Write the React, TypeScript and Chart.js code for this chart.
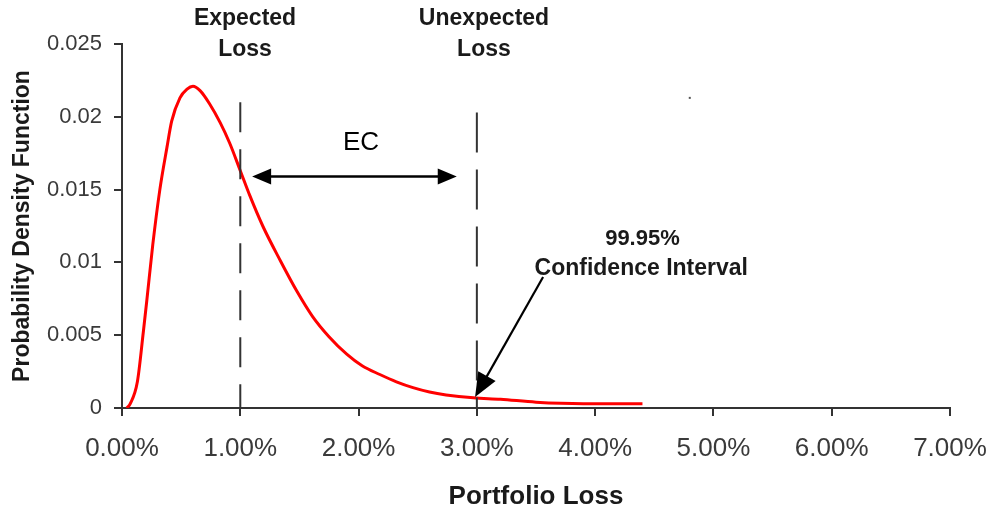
import React, { useEffect, useRef } from 'react';
import { Chart, registerables } from 'chart.js';

Chart.register(...registerables);

// Portfolio loss (%) and probability density
const lossPct = [0.04, 0.07, 0.13, 0.18, 0.21, 0.26, 0.32, 0.38, 0.42, 0.49, 0.55, 0.6, 0.66, 0.74, 0.83, 0.91, 1.0, 1.08, 1.19, 1.34, 1.48, 1.61, 1.75, 1.9, 2.03, 2.18, 2.32, 2.46, 2.6, 2.74, 2.97, 3.2, 3.5, 3.9, 4.4];
const density = [0, 0.0003, 0.0018, 0.0052, 0.0074, 0.0112, 0.015, 0.0179, 0.0197, 0.0213, 0.0219, 0.0221, 0.0218, 0.0209, 0.0196, 0.0182, 0.0163, 0.0146, 0.0125, 0.0101, 0.0080, 0.0063, 0.0049, 0.0037, 0.0029, 0.0023, 0.0018, 0.0014, 0.0011, 0.0009, 0.0007, 0.0006, 0.0004, 0.0003, 0.0003];

const xTickValues = [0, 1, 2, 3, 4, 5, 6, 7];
const yTickValues = [0, 0.005, 0.01, 0.015, 0.02, 0.025];

// Annotations (in data units)
const expectedLoss = 1.0;
const unexpectedLoss = 3.0;
const expectedLineTop = 0.021;
const unexpectedLineTop = 0.0203;
const ecArrow = { from: 1.1, to: 2.83, y: 0.0159 };
const ciArrow = { fromX: 3.56, fromY: 0.009, toX: 2.985, toY: 0.00075 };
const labels = [
  { text: 'Expected', x: 1.04, y: 0.0263, bold: true, size: 23 },
  { text: 'Loss', x: 1.04, y: 0.0242, bold: true, size: 23 },
  { text: 'Unexpected', x: 3.06, y: 0.0263, bold: true, size: 23 },
  { text: 'Loss', x: 3.06, y: 0.0242, bold: true, size: 23 },
  { text: 'EC', x: 2.02, y: 0.0177, bold: false, size: 26 },
  { text: '99.95%', x: 4.4, y: 0.0112, bold: true, size: 22 },
  { text: 'Confidence Interval', x: 4.39, y: 0.00913, bold: true, size: 23 },
];
const strayDot = { x: 4.8, y: 0.0213 };

const FONT = '"Liberation Sans", Arial, sans-serif';

function arrowHead(ctx: CanvasRenderingContext2D, fx: number, fy: number, tx: number, ty: number, len: number, half: number) {
  const ang = Math.atan2(ty - fy, tx - fx);
  const bx = tx - len * Math.cos(ang);
  const by = ty - len * Math.sin(ang);
  ctx.beginPath();
  ctx.moveTo(tx, ty);
  ctx.lineTo(bx + half * Math.sin(ang), by - half * Math.cos(ang));
  ctx.lineTo(bx - half * Math.sin(ang), by + half * Math.cos(ang));
  ctx.closePath();
  ctx.fill();
}

const annotationPlugin = {
  id: 'lossAnnotations',
  afterDatasetsDraw(chart: any) {
    const { ctx, scales } = chart;
    const xs = scales.x;
    const ys = scales.y;
    const px = (v: number) => xs.getPixelForValue(v);
    const py = (v: number) => ys.getPixelForValue(v);
    ctx.save();

    // dashed vertical lines
    ctx.strokeStyle = '#333';
    ctx.lineWidth = 2;
    ctx.setLineDash([30, 17]);
    ctx.beginPath();
    ctx.moveTo(px(expectedLoss), py(expectedLineTop));
    ctx.lineTo(px(expectedLoss), py(0));
    ctx.stroke();
    ctx.setLineDash([40, 17]);
    ctx.beginPath();
    ctx.moveTo(px(unexpectedLoss), py(unexpectedLineTop));
    ctx.lineTo(px(unexpectedLoss), py(0));
    ctx.stroke();
    ctx.setLineDash([]);

    // EC double arrow
    ctx.strokeStyle = '#000';
    ctx.fillStyle = '#000';
    ctx.lineWidth = 2.5;
    const ax1 = px(ecArrow.from), ax2 = px(ecArrow.to), ay = py(ecArrow.y);
    ctx.beginPath();
    ctx.moveTo(ax1 + 10, ay);
    ctx.lineTo(ax2 - 10, ay);
    ctx.stroke();
    arrowHead(ctx, ax2, ay, ax1, ay, 19, 8);
    arrowHead(ctx, ax1, ay, ax2, ay, 19, 8);

    // confidence interval arrow
    const cx1 = px(ciArrow.fromX), cy1 = py(ciArrow.fromY);
    const cx2 = px(ciArrow.toX), cy2 = py(ciArrow.toY);
    ctx.lineWidth = 2.2;
    ctx.beginPath();
    ctx.moveTo(cx1, cy1);
    const ang = Math.atan2(cy2 - cy1, cx2 - cx1);
    ctx.lineTo(cx2 - 12 * Math.cos(ang), cy2 - 12 * Math.sin(ang));
    ctx.stroke();
    arrowHead(ctx, cx1, cy1, cx2, cy2, 24, 10);

    // texts
    ctx.textAlign = 'center';
    ctx.textBaseline = 'alphabetic';
    for (const l of labels) {
      ctx.font = `${l.bold ? 'bold ' : ''}${l.size}px ${FONT}`;
      ctx.fillStyle = l.bold ? '#1a1a1a' : '#000';
      ctx.fillText(l.text, px(l.x), py(l.y));
    }

    // stray dot
    ctx.fillStyle = '#555';
    ctx.fillRect(px(strayDot.x) - 1, py(strayDot.y) - 1, 2, 2);

    ctx.restore();
  },
};

export default function App() {
  const canvasRef = useRef<HTMLCanvasElement | null>(null);

  useEffect(() => {
    if (!canvasRef.current) return;
    const chart = new Chart(canvasRef.current, {
      type: 'line',
      data: {
        datasets: [
          {
            data: lossPct.map((v, i) => ({ x: v, y: density[i] })),
            borderColor: '#ff0000',
            borderWidth: 3,
            pointRadius: 0,
            cubicInterpolationMode: 'monotone',
            fill: false,
          },
        ],
      },
      options: {
        responsive: true,
        maintainAspectRatio: false,
        animation: false,
        layout: { padding: { left: 0, top: 44, right: 45, bottom: 0 } },
        plugins: { legend: { display: false }, tooltip: { enabled: false } },
        scales: {
          x: {
            type: 'linear',
            min: 0,
            max: 7,
            afterFit: (s: any) => { s.height = 107; s.paddingLeft = 0; s.paddingRight = 0; },
            afterBuildTicks: (s: any) => { s.ticks = xTickValues.map((v) => ({ value: v })); },
            ticks: {
              callback: (v: any) => Number(v).toFixed(2) + '%',
              font: { family: FONT, size: 26 },
              color: '#3a3a3a',
              padding: 17,
              maxRotation: 0,
              autoSkip: false,
            },
            grid: { drawOnChartArea: false, drawTicks: true, tickLength: 8, color: '#333', lineWidth: 2 },
            border: { display: true, color: '#333', width: 2 },
            title: {
              display: true,
              text: 'Portfolio Loss',
              font: { family: FONT, size: 26, weight: 'bold' },
              color: '#1a1a1a',
              padding: { top: 0, bottom: 3 },
            },
          },
          y: {
            type: 'linear',
            min: 0,
            max: 0.025,
            afterFit: (s: any) => { s.width = 122; s.paddingTop = 0; s.paddingBottom = 0; },
            afterBuildTicks: (s: any) => { s.ticks = yTickValues.map((v) => ({ value: v })); },
            ticks: {
              callback: (v: any) => String(Number(Number(v).toFixed(3))),
              font: { family: FONT, size: 22 },
              color: '#3a3a3a',
              padding: 12,
              autoSkip: false,
            },
            grid: { drawOnChartArea: false, drawTicks: true, tickLength: 8, color: '#333', lineWidth: 2 },
            border: { display: true, color: '#333', width: 2 },
            title: {
              display: true,
              text: 'Probability Density Function',
              font: { family: FONT, size: 23, weight: 'bold' },
              color: '#1a1a1a',
              padding: { top: 9, bottom: 0 },
            },
          },
        },
      },
      plugins: [annotationPlugin],
    } as any);
    return () => chart.destroy();
  }, []);

  return (
    <div style={{ position: 'fixed', left: 0, top: 0, width: 995, height: 515, background: '#fff' }}>
      <canvas ref={canvasRef} />
    </div>
  );
}
